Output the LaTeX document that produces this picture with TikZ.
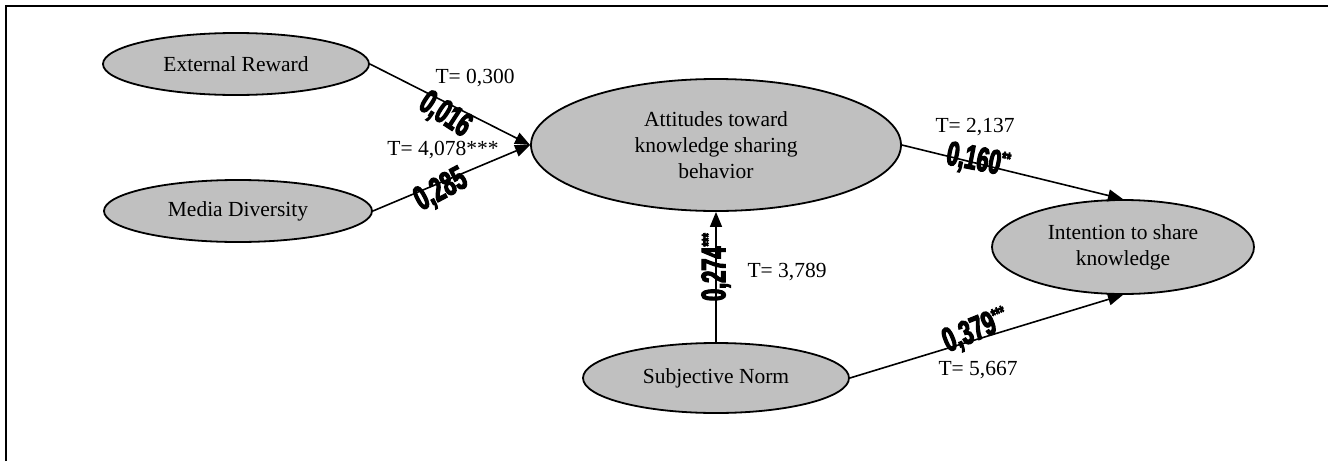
\documentclass[tikz,border=0pt]{standalone}
\usepackage{fontspec}
\setmainfont{Liberation Serif}
\newfontfamily\coeffont{Liberation Sans}[FakeStretch=0.64, BoldFeatures={FakeBold=3.5}]
\usetikzlibrary{shapes.geometric,arrows.meta}
\definecolor{nodegray}{RGB}{192,192,192}
\newcommand\coefstar[1]{\raisebox{11pt}{\fontsize{18}{18}\selectfont #1}}
\tikzset{
  latent/.style={ellipse, draw, line width=1.8pt, fill=nodegray, inner sep=0pt,
    align=center, font=\fontsize{21.5}{26}\selectfont},
  arrowline/.style={line width=1.6pt, -{Triangle[length=15pt,width=12pt]}},
  tlab/.style={font=\fontsize{21.5}{25}\selectfont, inner sep=0pt},
  coef/.style={font=\coeffont\bfseries\fontsize{34}{34}\selectfont, inner sep=0pt}
}
\begin{document}
\begin{tikzpicture}[x=1pt,y=1pt]
\useasboundingbox (0,0) rectangle (1328,-461);
\draw[line width=2.5pt] (6,-461) -- (6,-6) -- (1328,-6);

\node[latent, minimum width=266, minimum height=62] (er) at (236,-64) {External Reward};
\node[latent, minimum width=268, minimum height=62] (md) at (238,-211) {Media Diversity};
\node[latent, minimum width=370, minimum height=132] (att) at (716,-145) {Attitudes toward\\knowledge sharing\\behavior};
\node[latent, minimum width=262, minimum height=94] (int) at (1123,-247) {Intention to share\\knowledge};
\node[latent, minimum width=266, minimum height=70] (sn) at (716,-378) {Subjective Norm};

\draw[arrowline] (er.east) -- (att.west);
\draw[arrowline] (md.east) -- (att.west);
\draw[arrowline] (att.east) -- (int.north);
\draw[arrowline] (sn.north) -- (att.south);
\draw[arrowline] (sn.east) -- (int.south);

\node[tlab] (t1) at (475,-78) {T= 0,300};
\node[tlab] (t2) at (443,-150) {T= 4,078***};
\node[tlab] (t3) at (975,-127) {T= 2,137};
\node[tlab] (t4) at (787,-272) {T= 3,789};
\node[tlab] (t5) at (978,-370) {T= 5,667};

\node[coef, rotate=-33] (c1) at (445,-115) {0,016};
\node[coef, rotate=28] (c2) at (441,-190) {0,285};
\node[coef, rotate=-11] (c3) at (978,-161) {0,160\coefstar{**}};
\node[coef, rotate=90] (c4) at (716,-267) {0,274\coefstar{***}};
\node[coef, rotate=22] (c5) at (976,-331) {0,379\coefstar{***}};
\end{tikzpicture}
\end{document}
